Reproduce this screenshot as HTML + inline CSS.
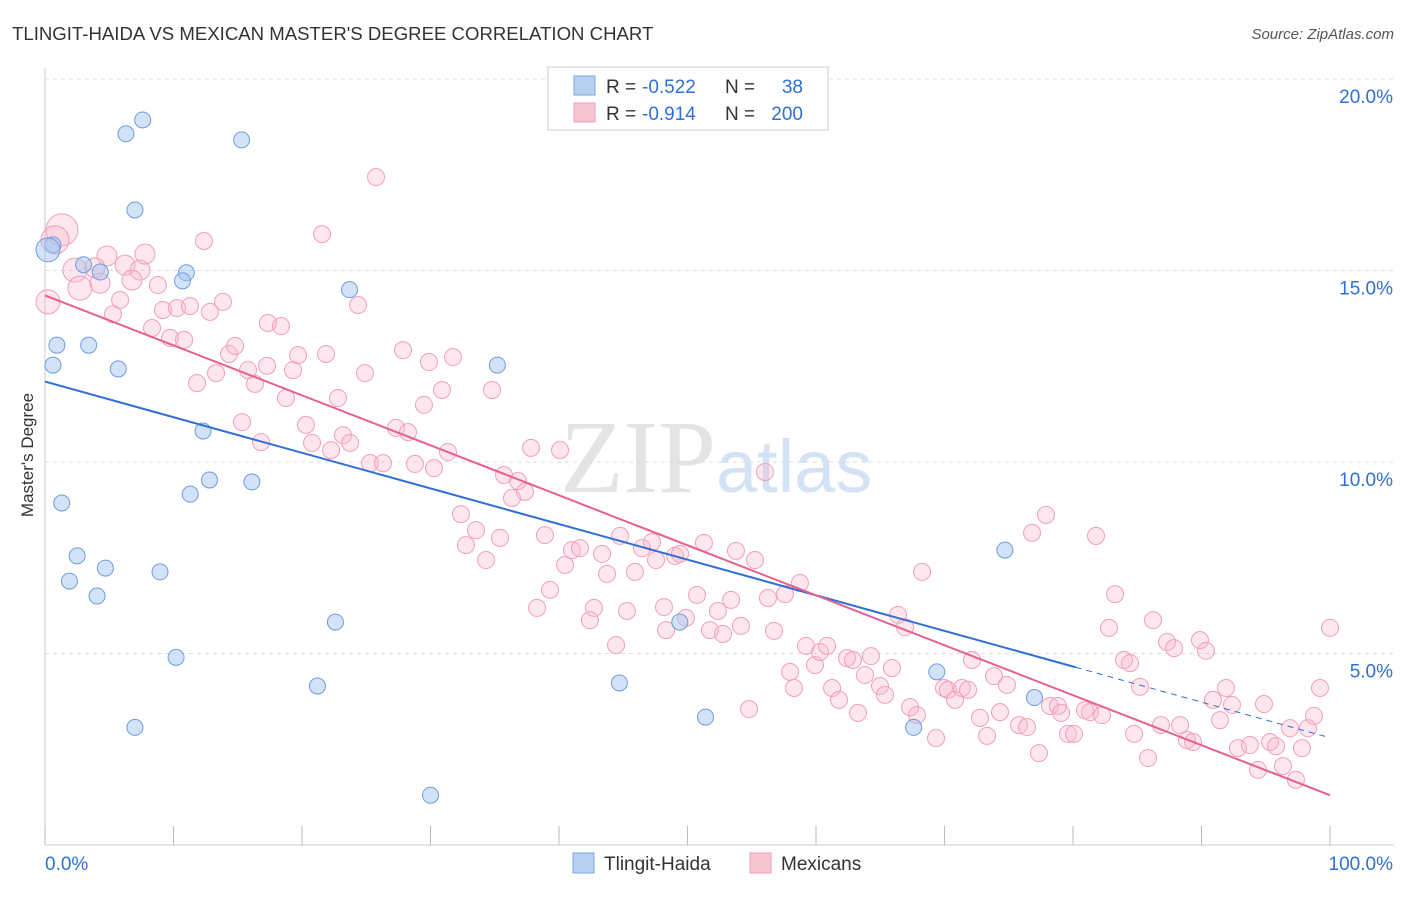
<!DOCTYPE html>
<html><head><meta charset="utf-8">
<style>
body{margin:0;background:#fff;font-family:"Liberation Sans",sans-serif;}
svg text{font-family:"Liberation Sans",sans-serif;}
</style></head>
<body>
<svg id="chart" width="1406" height="892" viewBox="0 0 1406 892" xmlns="http://www.w3.org/2000/svg">
<text x="12" y="40" font-size="18.6" fill="#333">TLINGIT-HAIDA VS MEXICAN MASTER'S DEGREE CORRELATION CHART</text>
<text x="1394" y="39" font-size="15" fill="#555" text-anchor="end" font-style="italic">Source: ZipAtlas.com</text>
<text x="716" y="492" font-size="104" fill="#e4e4e4" text-anchor="end" font-family="Liberation Serif" style="font-family:'Liberation Serif',serif">ZIP</text>
<text x="716" y="492" font-size="74" fill="#d4e2f5">atlas</text>
<g id="grid"></g>
<g id="axes"></g>
<g id="pink"></g>
<g id="blue"></g>
<g id="lines"></g>
<text transform="translate(33,455) rotate(-90)" font-size="17" fill="#333" text-anchor="middle">Master's Degree</text>
<g>
<rect x="548" y="67" width="280" height="63" fill="#fff" stroke="#ccc"/>
<rect x="574" y="76" width="21" height="19" fill="#b8d0f0" stroke="#7aa7e0"/>
<rect x="574" y="103" width="21" height="19" fill="#f9c6d4" stroke="#f09ab5"/>
<text x="606" y="93" font-size="19" fill="#333">R =</text>
<text x="642" y="93" font-size="19" fill="#2f6fd6">-0.522</text>
<text x="725" y="93" font-size="19" fill="#333">N =</text>
<text x="803" y="93" font-size="19" fill="#2f6fd6" text-anchor="end">38</text>
<text x="606" y="120" font-size="19" fill="#333">R =</text>
<text x="642" y="120" font-size="19" fill="#2f6fd6">-0.914</text>
<text x="725" y="120" font-size="19" fill="#333">N =</text>
<text x="803" y="120" font-size="19" fill="#2f6fd6" text-anchor="end">200</text>
</g>
<g>
<rect x="573" y="853" width="21" height="20" fill="#b8d0f0" stroke="#7aa7e0"/>
<text x="604" y="870" font-size="19" fill="#333">Tlingit-Haida</text>
<rect x="750" y="853" width="21" height="20" fill="#f9c6d4" stroke="#f09ab5"/>
<text x="781" y="870" font-size="19" fill="#333">Mexicans</text>
</g>
</svg>
<script>
const NS="http://www.w3.org/2000/svg";
const yTicks=[5,10,15,20];
const xTickLabels=["0.0%","100.0%"];
const blueX=[0.62,6.3,7.6,15.3,7.0,3.0,4.3,11.0,10.7,0.93,3.4,0.62,5.7,23.7,35.2,12.3,12.8,11.3,16.1,1.3,2.5,4.7,1.9,8.95,4.05,22.6,10.2,21.2,7.0,30.0,44.7,51.4,49.4,69.4,67.6,74.7,77.0,0.23];
const blueY=[15.67,18.57,18.93,18.41,16.58,15.15,14.96,14.94,14.73,13.05,13.05,12.53,12.43,14.5,12.53,10.81,9.53,9.16,9.48,8.93,7.55,7.23,6.89,7.13,6.5,5.82,4.9,4.15,3.07,1.3,4.23,3.34,5.82,4.52,3.07,7.7,3.85,15.54];
const pinkPx=[[62,230],[55,240],[75,270],[80,288],[48,302],[107,256],[125,265],[140,270],[145,254],[95,268],[132,280],[100,283],[120,300],[113,314],[158,285],[163,310],[177,308],[190,306],[210,312],[223,302],[204,241],[152,328],[170,338],[184,340],[197,383],[216,373],[229,354],[235,346],[248,370],[255,384],[267,366],[268,323],[281,326],[286,398],[293,370],[298,355],[322,234],[326,354],[338,398],[365,373],[358,305],[376,177],[242,422],[261,442],[306,425],[312,443],[331,450],[343,435],[350,443],[370,463],[383,463],[396,428],[403,350],[408,432],[415,464],[424,405],[429,362],[434,468],[442,390],[448,452],[453,357],[461,514],[466,545],[476,530],[486,560],[492,390],[500,538],[504,475],[512,498],[518,481],[525,492],[531,448],[537,608],[545,535],[550,590],[560,450],[565,565],[572,550],[580,548],[590,620],[594,608],[602,554],[607,574],[616,645],[620,536],[627,611],[635,572],[642,548],[652,542],[656,560],[664,607],[666,630],[675,556],[680,554],[686,618],[697,595],[704,543],[710,630],[718,611],[723,634],[731,600],[736,551],[741,626],[749,709],[755,560],[765,472],[768,598],[774,631],[785,594],[790,672],[794,688],[800,583],[806,646],[815,665],[820,652],[827,646],[832,688],[839,700],[847,658],[853,660],[858,713],[865,675],[871,656],[880,686],[885,695],[892,668],[898,615],[905,627],[910,707],[917,715],[922,572],[936,738],[944,688],[948,690],[955,700],[962,688],[968,690],[972,660],[980,718],[987,736],[994,676],[1000,712],[1007,685],[1019,725],[1027,727],[1032,533],[1039,753],[1046,515],[1050,706],[1058,706],[1061,713],[1068,734],[1074,734],[1085,710],[1090,712],[1096,536],[1102,715],[1109,628],[1115,594],[1124,660],[1130,663],[1134,734],[1140,687],[1148,758],[1153,620],[1161,725],[1167,642],[1174,648],[1180,725],[1187,740],[1193,742],[1200,640],[1206,651],[1213,700],[1220,720],[1226,688],[1232,705],[1238,748],[1250,745],[1258,770],[1264,704],[1270,742],[1276,746],[1283,766],[1290,728],[1296,780],[1302,748],[1308,728],[1314,716],[1320,688],[1330,628]];
const pinkX=pinkPx.map(p=>+((p[0]-45)/12.85).toFixed(2));
const pinkY=pinkPx.map(p=>+(20-(p[1]-79)/38.3).toFixed(2));
const pinkR=pinkX.map((v,i)=>i==0?16:i==1?14:(i<5?12:(i<12?10:8.5)));
const blueTrend=[12.1,2.8];
const pinkTrend=[14.35,1.3];
const X=v=>45+v*12.85, Y=v=>79+(20-v)*38.3;
function mk(tag,attrs,parent){const e=document.createElementNS(NS,tag);for(const k in attrs)e.setAttribute(k,attrs[k]);parent.appendChild(e);return e;}
const grid=document.getElementById('grid'),axes=document.getElementById('axes');
yTicks.forEach(t=>{
 const l=mk('line',{x1:45,x2:1394,y1:Y(t),y2:Y(t),stroke:'#ddd','stroke-dasharray':'4,4'},grid);
 
 
 const tx=mk('text',{x:1393,y:Y(t)+24,'font-size':19,fill:'#2f6fd6','text-anchor':'end'},axes);
 tx.textContent=t.toFixed(1)+'%';
 
 
});
mk('line',{x1:45,x2:45,y1:68,y2:845,stroke:'#ccc'},axes);
mk('line',{x1:45,x2:1394,y1:845,y2:845,stroke:'#ccc'},axes);
for(let i=0;i<=10;i++){mk('line',{x1:X(i*10),x2:X(i*10),y1:826,y2:845,stroke:'#bbb'},axes);}
const t0=mk('text',{x:45,y:870,'font-size':19,fill:'#2f6fd6'},axes);t0.textContent=xTickLabels[0];


const t1=mk('text',{x:1393,y:870,'font-size':19,fill:'#2f6fd6','text-anchor':'end'},axes);t1.textContent=xTickLabels[1];


const pg=document.getElementById('pink');
pinkX.forEach((x,i)=>{const c=mk('circle',{cx:X(x),cy:Y(pinkY[i]),r:pinkR[i],fill:'rgba(248,182,202,0.35)',stroke:'#f0a0b8','stroke-width':1},pg);
 
 });
const bg=document.getElementById('blue');
blueX.forEach((x,i)=>{const c=mk('circle',{cx:X(x),cy:Y(blueY[i]),r:i==37?12:8,fill:'rgba(165,198,240,0.5)',stroke:'#6e9cdc','stroke-width':1},bg);
 
 });
const lg=document.getElementById('lines');
const bt=v=>blueTrend[0]+(blueTrend[1]-blueTrend[0])*v/100;
const pt=v=>pinkTrend[0]+(pinkTrend[1]-pinkTrend[0])*v/100;
const bl=mk('line',{x1:X(0),y1:Y(bt(0)),x2:X(80.2),y2:Y(bt(80.2)),stroke:'#2f6fd6','stroke-width':2},lg);


const bd=mk('line',{x1:X(80.2),y1:Y(bt(80.2)),x2:X(100),y2:Y(bt(100)),stroke:'#2f6fd6','stroke-width':1,'stroke-dasharray':'6,5'},lg);


const pl=mk('line',{x1:X(0),y1:Y(pt(0)),x2:X(100),y2:Y(pt(100)),stroke:'#e8608e','stroke-width':2},lg);


</script>
</body></html>
